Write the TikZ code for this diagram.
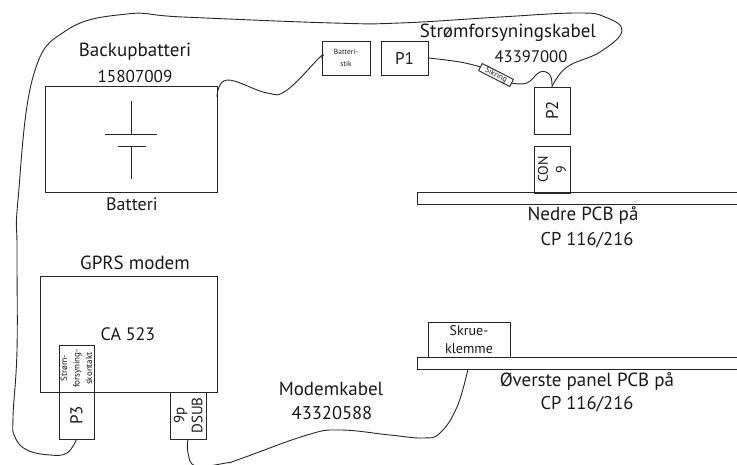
\documentclass[tikz,border=0pt]{standalone}
\usepackage{fontspec}
\setmainfont{PT Sans}
\usepackage{tikz}
\usetikzlibrary{shapes,arrows}

\tikzset{fs/.style 2 args={font=\fontsize{#1}{#2}\selectfont}}

\begin{document}
\begin{tikzpicture}[x=1pt,y=-1pt,semithick]
\tikzstyle{every node}=[text=black!90,fs={19}{22},align=center,inner sep=0pt]
\tikzstyle{box}=[draw=black!85,line width=0.9pt,rectangle]
\tikzstyle{cable}=[draw=black!85,line width=0.9pt,smooth,tension=0.7]
\tikzstyle{symbol}=[draw=black!85,line width=0.9pt]
\useasboundingbox (0,0) rectangle (737,464);

% boxes
\node[box,minimum width=172,minimum height=106] (Batt) at (131,139) {};
\node[box,minimum width=48,minimum height=34,fs={7.5}{11.5}] (Stik) at (346,58) {Batteri-\\stik};
\node[box,minimum width=47,minimum height=34,fs={17}{20}] (P1) at (404.5,58) {P1};
\node[box,minimum width=35,minimum height=8,rotate=-27,fs={8}{8}] (Sik) at (496,75) {Sikring};
\node[box,minimum width=47,minimum height=36,rotate=90,fs={17}{20}] (P2) at (552,110.5) {P2};
\node[box,minimum width=47,minimum height=36,rotate=90,fs={14}{18}] (Con) at (552,169.5) {CON\\9};
\node[box,minimum width=320,minimum height=11.5] (PCBa) at (577,198.5) {};
\node[box,minimum width=177,minimum height=116] (Modem) at (128.5,334) {};
\node[box,minimum width=47,minimum height=35,rotate=90,fs={9}{12.5}] (Kontakt) at (76.5,368.5) {Strøm-\\forsyning-\\skontakt};
\node[box,minimum width=47,minimum height=35,rotate=90,fs={17}{20}] (P3) at (76.5,415.5) {P3};
\node[box,minimum width=47,minimum height=36,rotate=90,fs={15}{18}] (Dsub) at (188,415.5) {9p\\DSUB};
\node[box,minimum width=82,minimum height=35,fs={14}{18}] (Skrue) at (469,339.5) {Skrue-\\klemme};
\node[box,minimum width=320,minimum height=12] (PCBb) at (577,363) {};

% labels
\node (Lbackup) at (135,52) {Backupbatteri};
\node[fs={17.2}{20}] (Lnum) at (135,76) {15807009};
\node[fs={18}{20}] (Lbatt) at (132,204) {Batteri};
\node (Lkabel) at (508,33) {Strømforsyningskabel};
\node[fs={16.7}{20}] (Lkabelnr) at (531,57) {43397000};
\node (Lnedre) at (583,215) {Nedre PCB på};
\node[fs={18.5}{20}] (Lnedrecp) at (587,240) {CP 116/216};
\node (Lgprs) at (135,263) {GPRS modem};
\node[fs={18}{20}] (Lca) at (128,334) {CA 523};
\node (Lmodem) at (331,389) {Modemkabel};
\node[fs={18.5}{20}] (Lmodemnr) at (332,413) {43320588};
\node (Lover) at (587,381) {Øverste panel PCB på};
\node[fs={18.5}{20}] (Lovercp) at (587,404) {CP 116/216};

% battery symbol
\coordinate (Ta) at (131,101);
\coordinate (Tb) at (131,134);
\coordinate (Tc) at (131,146);
\coordinate (Td) at (131,179);
\draw[symbol] (Ta) -- (Tb);
\draw[symbol] (Tc) -- (Td);
\draw[symbol] (105,134) -- (157,134);
\draw[symbol] (118,146) -- (146,146);

% cables
\draw[cable] plot coordinates {(P3.west) (67,453) (50,455) (27,450) (15,437) (13,417) (17,350) (17,250) (18,200) (33,77) (67,30) (127,14) (183,17) (333,23) (400,23) (500,17) (577,13) (605,17) (622,31) (600,52) (567,67) (P2.east)};
\draw[cable] plot coordinates {(217,97) (227,80) (267,93) (287,90) (320,57) (Stik.west)};
\draw[cable] plot coordinates {(P1.east) (460,62) (Sik.west)};
\draw[cable] plot coordinates {(Sik.east) (527,83) (540,72) (550,75) (P2.east)};
\draw[cable] plot coordinates {(Dsub.west) (188,453) (196,466) (226,463) (240,459) (307,435) (340,430) (390,435) (423,438) (440,433) (457,407) (468,369)};
\end{tikzpicture}
\end{document}
